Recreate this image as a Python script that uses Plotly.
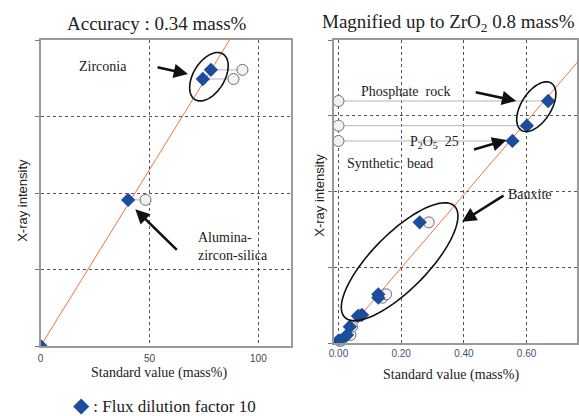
import numpy as np
import plotly.graph_objects as go

# ---------------- data ----------------
# Left panel: full range
left_std = [0.0, 40.2, 74.5, 78.2]          # standard value (mass%), flux dilution 10 (diamonds)
left_int = [0.0, 1.91, 3.49, 3.61]           # X-ray intensity (arb.)
left_unc_std = [None, 48.2, 88.6, 92.7]      # open circles (uncorrected)
left_slope = 0.0461
left_xticks = [0, 50, 100]

# Right panel: magnified up to ZrO2 0.8 mass%
right_std = [0.0, 0.005, 0.027, 0.036, 0.062, 0.075, 0.127, 0.127, 0.259, 0.555, 0.601, 0.669]
right_int = [0.03, 0.03, 0.105, 0.215, 0.356, 0.37, 0.598, 0.643, 1.593, 2.667, 2.869, 3.195]
right_unc_std = [0.003, 0.008, 0.038, 0.043, 0.066, 0.070, 0.140, 0.152, 0.288, 0.0, 0.0, 0.0]
right_slope = 4.83
right_intercept = 0.025
right_xticks = [0.0, 0.2, 0.4, 0.6]
right_xticklabels = ["0.00", "0.20", "0.40", "0.60"]

# ---------------- layout geometry ----------------
W, H = 579, 416
L_dom_px = (36, 289)
R_dom_px = (332, 578)
L_y_px = (40, 346)
R_y_px = (40, 343)
L_xrange = [0, 115]
R_xrange = [-0.0158, 0.761]
yrange = [0, 4]

BLUE = "#1c4c9c"
RED = "#f4713f"
SERIF = "Liberation Serif, Times New Roman, serif"
SANS = "Liberation Sans, Arial, sans-serif"

def pdx(px):
    return px / W

def pdy(py):
    return 1 - py / H

fig = go.Figure()

def pairs(xs1, xs2, ys):
    X, Y = [], []
    for a, b, y in zip(xs1, xs2, ys):
        if b is None:
            continue
        X += [a, b, None]
        Y += [y, y, None]
    return X, Y

# left panel traces
xl = np.array([0, L_xrange[1]])
fig.add_trace(go.Scatter(x=xl, y=left_slope * xl, mode="lines",
                         line=dict(color=RED, width=1), xaxis="x", yaxis="y", showlegend=False))
gx, gy = pairs(left_std, left_unc_std, left_int)
fig.add_trace(go.Scatter(x=gx, y=gy, mode="lines", line=dict(color="#b5b5b5", width=1),
                         xaxis="x", yaxis="y", showlegend=False))
lc = [(x, y) for x, y in zip(left_unc_std, left_int) if x is not None]
fig.add_trace(go.Scatter(x=[p[0] for p in lc], y=[p[1] for p in lc], mode="markers",
                         marker=dict(symbol="circle", size=11, color="#f2f2f2",
                                     line=dict(color="#6e6e6e", width=1)),
                         xaxis="x", yaxis="y", showlegend=False))
fig.add_trace(go.Scatter(x=left_std, y=left_int, mode="markers",
                         marker=dict(symbol="diamond", size=11, color=BLUE,
                                     line=dict(color=BLUE, width=0)),
                         xaxis="x", yaxis="y", showlegend=False))

# right panel traces
xr = np.array([0, 0.8])
fig.add_trace(go.Scatter(x=xr, y=right_slope * xr + right_intercept, mode="lines",
                         line=dict(color=RED, width=1), xaxis="x2", yaxis="y2", showlegend=False))
gx, gy = pairs(right_std, right_unc_std, right_int)
fig.add_trace(go.Scatter(x=gx, y=gy, mode="lines", line=dict(color="#b5b5b5", width=1),
                         xaxis="x2", yaxis="y2", showlegend=False))
fig.add_trace(go.Scatter(x=right_unc_std, y=right_int, mode="markers",
                         marker=dict(symbol="circle", size=11, color="#f2f2f2",
                                     line=dict(color="#6e6e6e", width=1)),
                         xaxis="x2", yaxis="y2", showlegend=False, cliponaxis=False))
fig.add_trace(go.Scatter(x=right_std, y=right_int, mode="markers",
                         marker=dict(symbol="diamond", size=11, color=BLUE,
                                     line=dict(color=BLUE, width=0)),
                         xaxis="x2", yaxis="y2", showlegend=False))

# ---------------- ellipses ----------------
def px_per_unit(dom_px, y_px, xrange):
    ppx = (dom_px[1] - dom_px[0]) / (xrange[1] - xrange[0])
    ppy = (y_px[1] - y_px[0]) / (yrange[1] - yrange[0])
    return ppx, ppy

def ellipse_path(cx, cy, a, b, theta_deg, ppx, ppy, n=90):
    th = np.radians(theta_deg)
    t = np.linspace(0, 2 * np.pi, n, endpoint=False)
    dxp = a * np.cos(t) * np.cos(th) - b * np.sin(t) * np.sin(th)
    dyp = a * np.cos(t) * np.sin(th) + b * np.sin(t) * np.cos(th)
    xs = cx + dxp / ppx
    ys = cy + dyp / ppy
    pts = [f"{x:.5f},{y:.5f}" for x, y in zip(xs, ys)]
    return "M " + " L ".join(pts) + " Z"

ppxL, ppyL = px_per_unit(L_dom_px, L_y_px, L_xrange)
ppxR, ppyR = px_per_unit(R_dom_px, R_y_px, R_xrange)

shapes = [
    dict(type="path", xref="x", yref="y", line=dict(color="#111", width=1.6),
         path=ellipse_path(77.3, 3.52, 26.8, 15.7, 58, ppxL, ppyL)),
    dict(type="path", xref="x2", yref="y2", line=dict(color="#111", width=1.6),
         path=ellipse_path(0.631, 3.12, 28.0, 15.0, 57, ppxR, ppyR)),
    dict(type="path", xref="x2", yref="y2", line=dict(color="#111", width=1.6),
         path=ellipse_path(0.195, 1.073, 78.5, 28.0, 45, ppxR, ppyR)),
]

# ---------------- annotations ----------------
ann = []
def arrow(xref, yref, x, y, ax, ay):
    ann.append(dict(xref=xref, yref=yref, x=x, y=y, ax=ax, ay=ay, text="",
                    showarrow=True, arrowhead=2, arrowsize=1.1, arrowwidth=2.6,
                    arrowcolor="#111", standoff=0))

arrow("x", "y", 67.7, 3.556, -32, -7)
arrow("x", "y", 43.5, 1.787, 43, 42)
arrow("x2", "y2", 0.567, 3.195, -42, -9)
arrow("x2", "y2", 0.536, 2.68, -34, 10)
arrow("x2", "y2", 0.394, 1.601, 43, -27)

def label(text, px, py, size=14, anchor="center", font=SERIF, color="#222", angle=0):
    ann.append(dict(xref="paper", yref="paper", x=pdx(px), y=pdy(py), text=text,
                    showarrow=False, xanchor=anchor, yanchor="middle", align="left",
                    textangle=angle, font=dict(family=font, size=size, color=color)))

label("Accuracy : 0.34 mass%", 154, 23, size=19)
label("Magnified up to ZrO<sub>2</sub> 0.8 mass%", 448, 23, size=19)
label("Zirconia", 99.5, 66, size=14)
label("Alumina-<br>zircon-silica", 193, 246, size=14, anchor="left")
label("Phosphate  rock", 358, 91, size=14, anchor="left")
label("P<sub>2</sub>O<sub>5</sub>  25", 407, 142, size=14, anchor="left")
label("Synthetic  bead", 344, 163, size=14, anchor="left")
label("Bauxite", 506, 194, size=14, anchor="left")
label("Standard value (mass%)", 156, 373, size=14)
label("Standard value (mass%)", 451, 375, size=14)
label("X-ray intensity", 17, 200, size=13, font=SANS, angle=-90)
label("X-ray intensity", 317, 195, size=13, font=SANS, angle=-90)
label('<span style="color:%s;font-size:21px">◆</span> : Flux dilution factor 10' % BLUE,
      67, 405, size=17, anchor="left")

# ---------------- axes ----------------
grid = dict(showgrid=True, gridcolor="#555", griddash="dot", gridwidth=1,
            showline=True, linecolor="#9a9a9a", linewidth=1.5, mirror=True, zeroline=False)

fig.update_layout(
    width=W, height=H, margin=dict(l=0, r=0, t=0, b=0),
    paper_bgcolor="white", plot_bgcolor="white",
    showlegend=False,
    xaxis=dict(domain=[pdx(L_dom_px[0]), pdx(L_dom_px[1])], range=L_xrange,
               tickvals=left_xticks, ticks="", ticklabelstandoff=2,
               tickfont=dict(family=SANS, size=10, color="#444"), anchor="y", **grid),
    yaxis=dict(domain=[pdy(L_y_px[1]), pdy(L_y_px[0])], range=yrange, dtick=1,
               ticks="outside", ticklen=4, tickcolor="#777", showticklabels=False,
               anchor="x", **grid),
    xaxis2=dict(domain=[pdx(R_dom_px[0]), pdx(R_dom_px[1])], range=R_xrange,
                tickvals=right_xticks, ticktext=right_xticklabels, ticks="",
                tickfont=dict(family=SANS, size=10, color="#3a5478"), anchor="y2", **grid),
    yaxis2=dict(domain=[pdy(R_y_px[1]), pdy(R_y_px[0])], range=yrange, dtick=1,
                ticks="outside", ticklen=4, tickcolor="#777", showticklabels=False,
                anchor="x2", **grid),
    shapes=shapes,
    annotations=ann,
)

fig.write_html("out.html")
